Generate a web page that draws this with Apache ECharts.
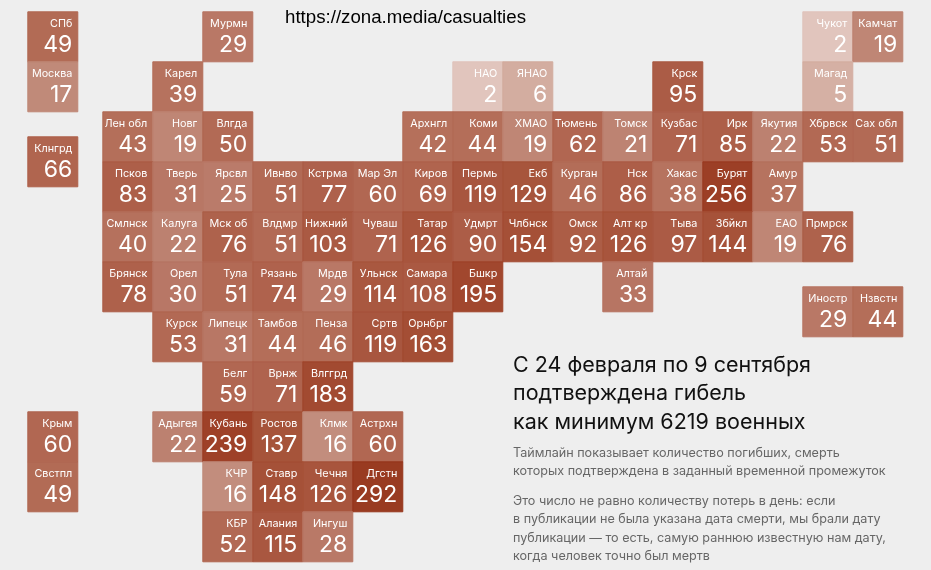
<!DOCTYPE html>
<html><head><meta charset="utf-8">
<style>html,body{margin:0;padding:0;background:#eeeeee}#c{width:931px;height:570px}</style>
<script src="https://cdn.jsdelivr.net/npm/echarts@6/dist/echarts.min.js"></script>
</head><body><div id="c"></div>
<script>
var regionNames = ['СПб','Мурмн','Чукот','Камчат',
 'Москва','Карел','НАО','ЯНАО','Крск','Магад',
 'Лен обл','Новг','Влгда','Архнгл','Коми','ХМАО','Тюмень','Томск','Кузбас','Ирк','Якутия','Хбрвск','Сах обл','Клнгрд',
 'Псков','Тверь','Ярсвл','Ивнво','Кстрма','Мар Эл','Киров','Пермь','Екб','Курган','Нск','Хакас','Бурят','Амур',
 'Смлнск','Калуга','Мск об','Влдмр','Нижний','Чуваш','Татар','Удмрт','Члбнск','Омск','Алт кр','Тыва','Збйкл','ЕАО','Прмрск',
 'Брянск','Орел','Тула','Рязань','Мрдв','Ульнск','Самара','Бшкр','Алтай','Иностр','Нзвстн',
 'Курск','Липецк','Тамбов','Пенза','Сртв','Орнбрг',
 'Белг','Врнж','Влггрд',
 'Крым','Адыгея','Кубань','Ростов','Клмк','Астрхн',
 'Свстпл','КЧР','Ставр','Чечня','Дгстн',
 'КБР','Алания','Ингуш'];
var regionValues = [49,29,2,19,
 17,39,2,6,95,5,
 43,19,50,42,44,19,62,21,71,85,22,53,51,66,
 83,31,25,51,77,60,69,119,129,46,86,38,256,37,
 40,22,76,51,103,71,126,90,154,92,126,97,144,19,76,
 78,30,51,74,29,114,108,195,33,29,44,
 53,31,44,46,119,163,
 59,71,183,
 60,22,239,137,16,60,
 49,16,148,126,292,
 52,115,28];
var regionCols = [0,3.5,15.5,16.5,
 0,2.5,8.5,9.5,12.5,15.5,
 1.5,2.5,3.5,7.5,8.5,9.5,10.5,11.5,12.5,13.5,14.5,15.5,16.5,0,
 1.5,2.5,3.5,4.5,5.5,6.5,7.5,8.5,9.5,10.5,11.5,12.5,13.5,14.5,
 1.5,2.5,3.5,4.5,5.5,6.5,7.5,8.5,9.5,10.5,11.5,12.5,13.5,14.5,15.5,
 1.5,2.5,3.5,4.5,5.5,6.5,7.5,8.5,11.5,15.5,16.5,
 2.5,3.5,4.5,5.5,6.5,7.5,
 3.5,4.5,5.5,
 0,2.5,3.5,4.5,5.5,6.5,
 0,3.5,4.5,5.5,6.5,
 3.5,4.5,5.5];
var regionRows = [0,0,0,0,
 1,1,1,1,1,1,
 2,2,2,2,2,2,2,2,2,2,2,2,2,2.5,
 3,3,3,3,3,3,3,3,3,3,3,3,3,3,
 4,4,4,4,4,4,4,4,4,4,4,4,4,4,4,
 5,5,5,5,5,5,5,5,5,5.5,5.5,
 6,6,6,6,6,6,
 7,7,7,
 8,8,8,8,8,8,
 9,9,9,9,9,
 10,10,10];
var colorStopValues = [2,5,17,25,50,90,130,200,292];
var colorStopHex = ['#e0c3bb','#d4ada1','#be8675','#b87765','#b0654f','#a95841','#a44f36','#9e4026','#96351a'];
var headingText = 'С 24 февраля по 9 сентября\nподтверждена гибель\nкак минимум 6219 военных';
var noteOne = 'Таймлайн показывает количество погибших, смерть\nкоторых подтверждена в заданный временной промежуток';
var noteTwo = 'Это число не равно количеству потерь в день: если\nв публикации не была указана дата смерти, мы брали дату\nпубликации — то есть, самую раннюю известную нам дату,\nкогда человек точно был мертв';
var sourceText = 'https://zona.media/casualties';

function hexRgb(h){return [parseInt(h.substr(1,2),16),parseInt(h.substr(3,2),16),parseInt(h.substr(5,2),16)];}
function tileColor(v){
  var i=0;
  while(i<colorStopValues.length-2 && v>colorStopValues[i+1]) i++;
  var t=(v-colorStopValues[i])/(colorStopValues[i+1]-colorStopValues[i]);
  t=Math.max(0,Math.min(1,t));
  var a=hexRgb(colorStopHex[i]),b=hexRgb(colorStopHex[i+1]);
  return 'rgb('+[0,1,2].map(function(k){return Math.round(a[k]+(b[k]-a[k])*t);}).join(',')+')';
}
var FONT='Inter, Roboto, sans-serif';
var chart=echarts.init(document.getElementById('c'),null,{renderer:'canvas'});
chart.setOption({
  animation:false,
  backgroundColor:'#eeeeee',
  title:[
    {text:sourceText,left:280,top:3,textStyle:{fontFamily:'"Liberation Sans"',fontSize:18.7,fontWeight:'normal',color:'#000'}},
    {text:headingText,left:508,top:346,textStyle:{fontFamily:FONT,fontSize:21.5,fontWeight:'normal',color:'#111',lineHeight:28.5}},
    {text:noteOne,left:508,top:439,textStyle:{fontFamily:FONT,fontSize:12.6,fontWeight:'normal',color:'#666',lineHeight:18}},
    {text:noteTwo,left:508,top:487,textStyle:{fontFamily:FONT,fontSize:12.6,fontWeight:'normal',color:'#666',lineHeight:18.3}}
  ],
  grid:{left:0,top:0,width:931,height:570},
  xAxis:{type:'value',min:-0.556,max:18.064,show:false},
  yAxis:{type:'value',min:-0.236,max:11.164,inverse:true,show:false},
  series:[{
    type:'custom',
    coordinateSystem:'cartesian2d',
    encode:{x:0,y:1},
    data:regionNames.map(function(n,i){return [regionCols[i],regionRows[i],regionValues[i],n];}),
    renderItem:function(params,api){
      var p=api.coord([api.value(0),api.value(1)]);
      var s=api.size([1,1]);
      var v=api.value(2), name=regionNames[params.dataIndex];
      var c=tileColor(v);
      return {type:'group',children:[
        {type:'rect',shape:{x:p[0],y:p[1],width:s[0],height:s[1]},style:{fill:c,stroke:c,lineWidth:1,opacity:0.97}},
        {type:'text',style:{text:name,x:p[0]+s[0]-5.5,y:p[1]+11.5,align:'right',verticalAlign:'middle',fill:'#fff',fontFamily:FONT,fontSize:10.8}},
        {type:'text',style:{text:String(v),x:p[0]+s[0]-5.5,y:p[1]+33.5,align:'right',verticalAlign:'middle',fill:'#fff',fontFamily:FONT,fontSize:23}}
      ]};
    }
  }]
});
</script></body></html>
